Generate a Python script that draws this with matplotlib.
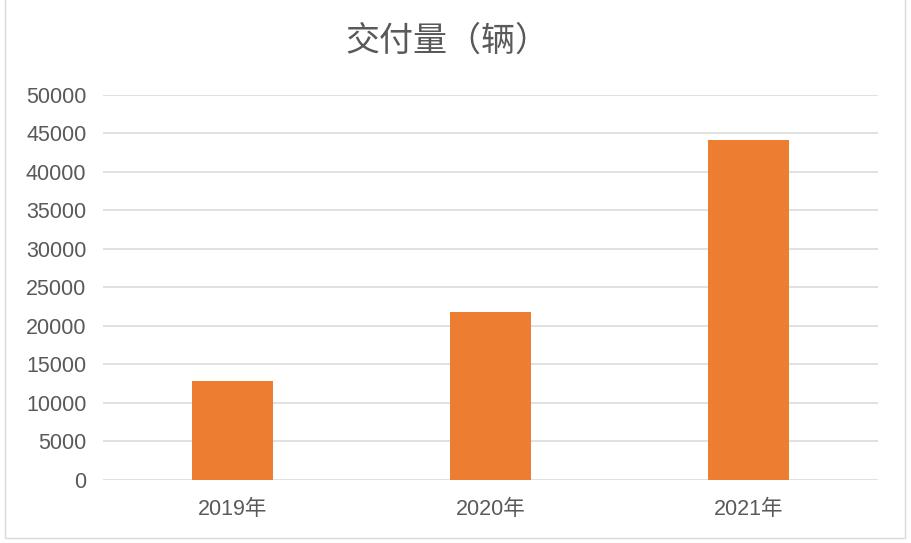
import matplotlib
matplotlib.use('Agg')
import matplotlib.pyplot as plt
from matplotlib.patches import Rectangle

# data
years = ['2019年', '2020年', '2021年']
deliveries = [12800, 21800, 44050]
yticks = [0, 5000, 10000, 15000, 20000, 25000, 30000, 35000, 40000, 45000, 50000]

plt.rcParams['font.family'] = ['Liberation Sans', 'Noto Sans CJK SC', 'DejaVu Sans']

fig = plt.figure(figsize=(9.11, 5.43), dpi=100)
ax = fig.add_axes([103/911, 1-479.5/543, 774.7/911, 384.8/543])

x = range(len(years))
ax.bar(x, deliveries, width=0.313, color='#ED7D31', zorder=3)

ax.set_xlim(-0.5, 2.5)
ax.set_ylim(0, 50000)
ax.set_yticks(yticks)
ax.set_yticklabels([str(v) for v in yticks])
ax.set_xticks(list(x))
ax.set_xticklabels(years)
ax.grid(axis='y', color='#d9d9d9', linewidth=1.1, zorder=0)
for s in ['top', 'right', 'left', 'bottom']:
    ax.spines[s].set_visible(False)
ax.tick_params(axis='both', length=0, labelsize=15.5, colors='#595959')
ax.tick_params(axis='y', pad=12)
ax.tick_params(axis='x', pad=14)

fig.text(0.491, 1-41/543, '交付量（辆）', ha='center', va='center',
         fontsize=24.5, color='#595959', family=['Noto Sans CJK SC'])

# chart border (top edge is cut off in the reference)
fig.patches.append(Rectangle((5/911, 5/543), 899.5/911, 560/543, transform=fig.transFigure,
                             fill=False, edgecolor='#d9d9d9', linewidth=1))

fig.savefig('out.png', dpi=100, facecolor='white')
